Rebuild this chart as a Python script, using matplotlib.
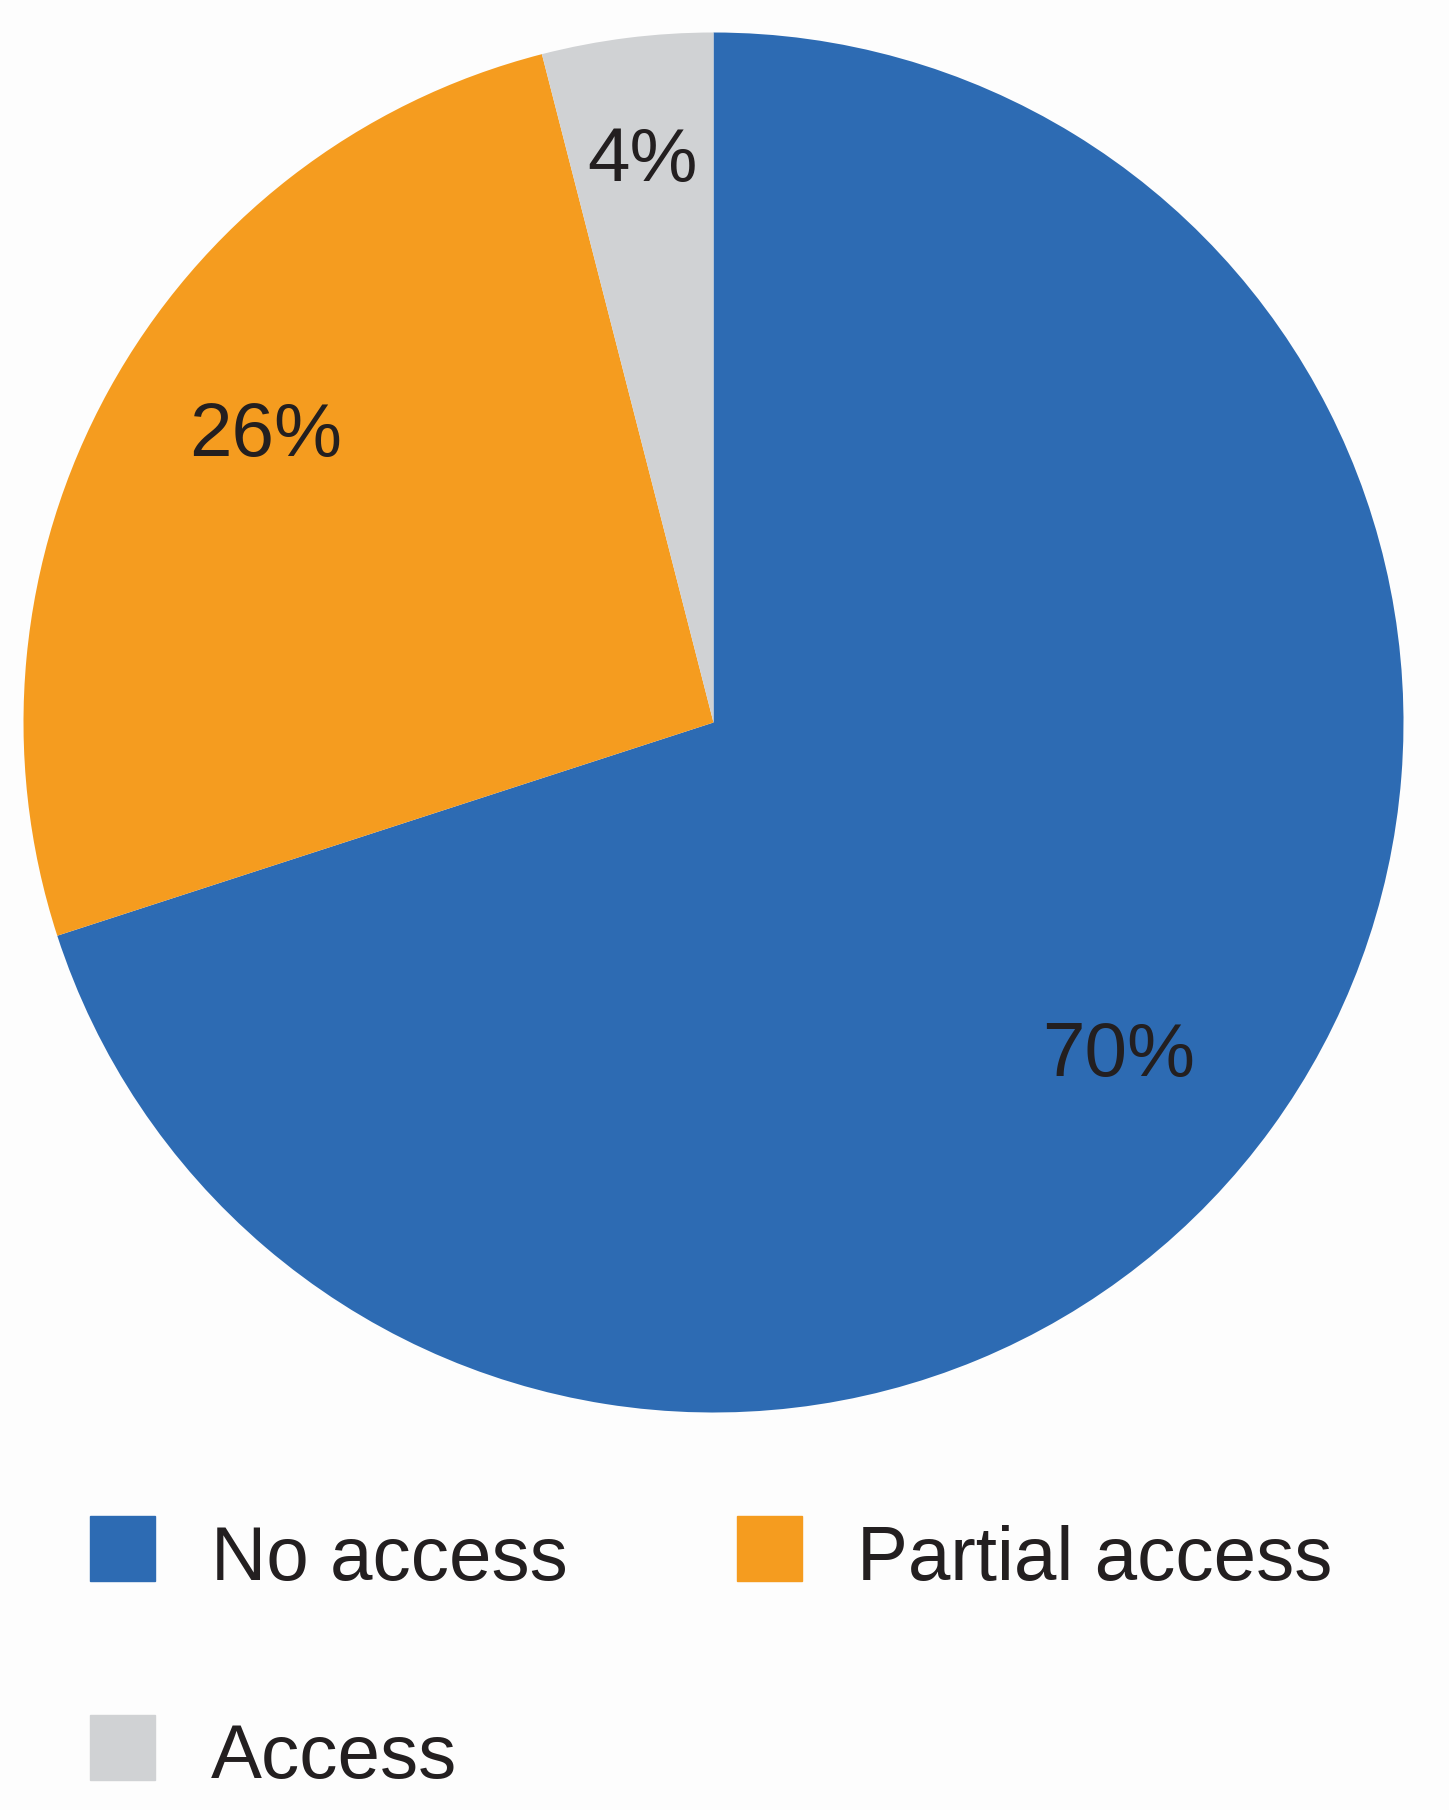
import matplotlib
matplotlib.use("Agg")
import matplotlib.pyplot as plt
import numpy as np
from matplotlib.patches import Rectangle

plt.rcParams['font.family'] = ['Liberation Sans', 'DejaVu Sans']

# data
labels = ['No access', 'Partial access', 'Access']
shares = [70, 26, 4]
colors = ['#2D6BB3', '#F59C1F', '#D0D2D4']
text_color = '#231F20'

W, H = 1449, 1810
fig = plt.figure(figsize=(W / 100, H / 100), dpi=100)
fig.patch.set_facecolor('#FDFDFD')

# pie axes: centre (713.5, 722.5) px from top, radius 690 px
R = 690
cx, cy = 713.5, H - 722.5
ax = fig.add_axes([(cx - R) / W, (cy - R) / H, 2 * R / W, 2 * R / H])
wedges, texts, pcts = ax.pie(shares, colors=colors, startangle=90, counterclock=False,
                             autopct='%d%%', pctdistance=0.77,
                             textprops=dict(fontsize=55, color=text_color))
# nudge the labels a little: (radius, degrees clockwise) relative to the default spot
nudge = [(0.76, 3.5), (0.77, 3.8), (0.82, 0.0)]
for t, (r, d) in zip(pcts, nudge):
    x, y = t.get_position()
    a = np.arctan2(y, x) - np.radians(d)
    t.set_position((r * np.cos(a), r * np.sin(a)))
ax.set_xlim(-1, 1)
ax.set_ylim(-1, 1)
ax.set_aspect('equal')
ax.axis('off')

# legend, drawn by hand in pixel positions
sq = 65
entries = [(90, 229, 211, 230.5), (737, 229, 857, 230.5), (90, 30, 211, 32)]
for (sx, sy, tx, ty), lab, col in zip(entries, labels, colors):
    fig.add_artist(Rectangle((sx / W, sy / H), sq / W, sq / H, color=col,
                             transform=fig.transFigure))
    fig.text(tx / W, ty / H, lab, fontsize=55, color=text_color, va='baseline')

fig.savefig('out.png', dpi=100, facecolor=fig.get_facecolor())
